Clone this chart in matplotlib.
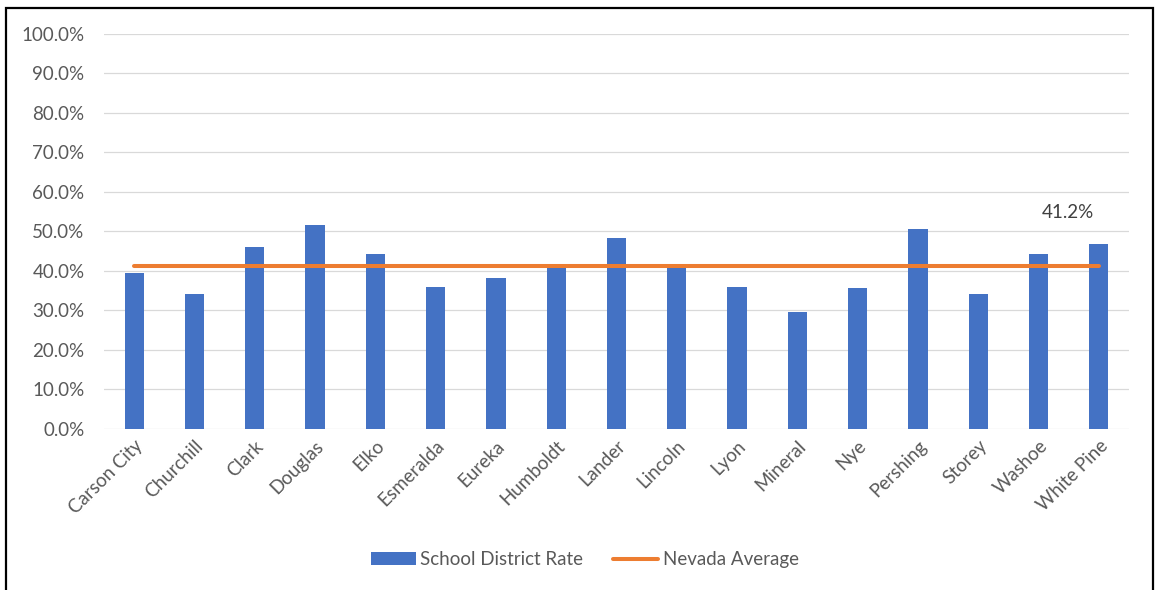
import matplotlib
matplotlib.use("Agg")
import matplotlib.pyplot as plt
from matplotlib.patches import Rectangle
from matplotlib.ticker import PercentFormatter, MultipleLocator
import numpy as np

districts = ["Carson City", "Churchill", "Clark", "Douglas", "Elko", "Esmeralda",
             "Eureka", "Humboldt", "Lander", "Lincoln", "Lyon", "Mineral", "Nye",
             "Pershing", "Storey", "Washoe", "White Pine"]
district_rate = [39.6, 34.3, 46.0, 51.7, 44.3, 36.0, 38.2, 40.9, 48.3, 40.9,
                 36.0, 29.6, 35.6, 50.7, 34.3, 44.3, 46.9]
nevada_average = 41.2

BLUE = "#4472C4"
ORANGE = "#ED7D31"
TEXT = "#595959"
FS = 13.5

plt.rcParams["font.family"] = ["Lato", "DejaVu Sans"]

fig = plt.figure(figsize=(11.56, 5.90), dpi=100)
ax = fig.add_axes([0.090, 0.2729, 0.8866, 0.6695])

x = np.arange(len(districts))
bars = ax.bar(x, district_rate, width=0.32, color=BLUE, zorder=2,
              label="School District Rate")
avg = [nevada_average] * len(districts)
line, = ax.plot(x, avg, color=ORANGE, linewidth=2.9, solid_capstyle="round",
                zorder=3, label="Nevada Average")
ax.annotate(f"{nevada_average:.1f}%", (x[-1], avg[-1]), xytext=(-31, 54),
            textcoords="offset pixels", ha="center", va="center",
            fontsize=FS, color="#404040")

ax.set_xlim(-0.5, len(districts) - 0.5)
ax.set_ylim(0, 100)
ax.yaxis.set_major_locator(MultipleLocator(10))
ax.yaxis.set_major_formatter(PercentFormatter(decimals=1))
ax.grid(axis="y", color="#d9d9d9", linewidth=0.9, zorder=0)
ax.set_axisbelow(True)
for side in ["top", "right", "left", "bottom"]:
    ax.spines[side].set_visible(False)
ax.tick_params(axis="both", length=0, colors=TEXT, labelsize=FS)
ax.tick_params(axis="y", pad=14)
ax.set_xticks(x)
ax.set_xticklabels(districts, rotation=45, ha="right", rotation_mode="anchor")
ax.tick_params(axis="x", pad=6)

leg = fig.legend([bars, line], ["School District Rate", "Nevada Average"],
                 loc="center", bbox_to_anchor=(0.506, 0.051), ncol=2,
                 frameon=False, fontsize=FS, handlelength=2.4,
                 handletextpad=0.25, columnspacing=1.6)
for t in leg.get_texts():
    t.set_color(TEXT)

fig.add_artist(Rectangle((0.0052, -0.02), 0.9922, 1.006, transform=fig.transFigure,
                         fill=False, edgecolor="black", linewidth=1.6))

fig.savefig("out.png", dpi=100)
